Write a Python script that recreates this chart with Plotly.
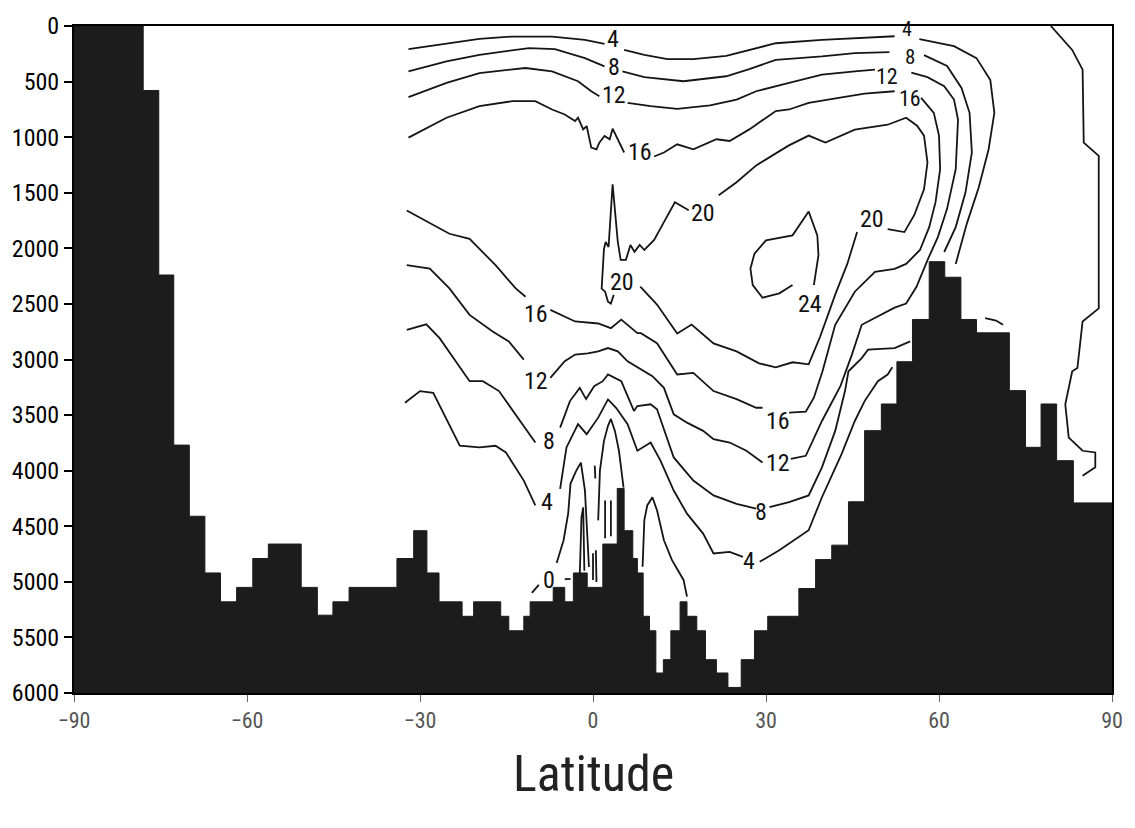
import plotly.graph_objects as go

# ---------------- bathymetry (step cells) ----------------
bathy_edges = [-90.0, -78.0, -75.3, -72.7, -70.0, -67.3, -64.6, -61.8, -59.0, -56.3, -50.6,
               -47.8, -45.1, -42.3, -34.0, -31.1, -28.8, -26.7, -22.7, -20.7, -16.0, -14.6,
               -12.0, -10.9, -6.9, -4.9, -3.4, -1.0, 1.7, 4.2, 5.4, 6.9, 7.7, 8.7, 9.8, 10.9,
               12.2, 13.5, 15.1, 16.3, 18.0, 19.5, 21.4, 23.4, 25.7, 28.0, 30.3, 35.7, 38.6,
               41.4, 44.3, 47.1, 50.0, 52.7, 55.4, 58.3, 61.0, 63.8, 66.5, 72.2, 75.0, 77.7,
               80.4, 83.3, 90.0]
bathy_depth = [0, 580, 2240, 3770, 4410, 4920, 5180, 5050, 4790, 4660,
               5050, 5300, 5180, 5050, 4790, 4540, 4920, 5180, 5310, 5180,
               5310, 5440, 5310, 5180, 5050, 5180, 4920, 5050, 4660, 4160,
               4540, 4790, 4920, 5310, 5440, 5820, 5700, 5440, 5180, 5310,
               5440, 5700, 5820, 5950, 5700, 5440, 5310, 5060, 4800, 4670,
               4280, 3640, 3400, 3020, 2640, 2120, 2260, 2640, 2760, 3280,
               3790, 3400, 3910, 4290]

# ---------------- contour lines (lat, depth); None = label gap ----------------
c4_upper_lat = [-32.0, -25.4, -19.7, -14.0, -7.1, -1.4, 2.0, None, 5.4, 8.9, 12.9, 17.4, 23.1,
                27.1, 31.7, 39.7, 45.4, 52.3, None, 56.6, 62.6, 66.5, 68.9, 69.6, 68.6, 66.9,
                64.8, 62.9]
c4_upper_dep = [208, 155, 116, 95, 95, 125, 161, None, 215, 259, 298, 298, 268,
                215, 155, 125, 110, 92, None, 119, 182, 289, 486, 781, 1111, 1451,
                1782, 2140]

c4_lower_lat = [51.9, 51.1, 49.4, 47.1, 45.4, 43.1, 39.7, 37.4, 32.3, 28.9, None,
                26.0, 23.7, 20.9, 19.1, 16.3, 14.0, 11.7, 10.0, 7.7, 6.0, 4.0, 2.6, 0.9,
                -1.1, -2.6, -4.6, -5.7, None, -10.0, -12.0, -15.1, -16.9, -19.7, -23.1,
                -27.7, -30.0, -32.6]
c4_lower_dep = [3070, 3135, 3195, 3374, 3553, 3851, 4239, 4536, 4715, 4820, None,
                4775, 4730, 4745, 4566, 4387, 4179, 3910, 3747, 3821, 3582, 3434, 3359, 3523,
                3672, 3582, 3791, 4163, None, 4313, 4089, 3836, 3776, 3791, 3776,
                3300, 3284, 3389]

c8_upper_lat = [-32.0, -25.4, -19.7, -11.1, -6.6, -1.4, 2.0, None, 5.1, 8.9, 15.7, 23.1, 27.1,
                31.7, 34.0, 39.7, 45.4, 51.4, None, 57.4, 61.4, 63.9, 65.3, 65.7, 64.6, 62.9,
                60.9]
c8_upper_dep = [408, 318, 259, 199, 208, 289, 363, None, 408, 459, 497, 452, 387,
                305, 296, 274, 244, 235, None, 262, 360, 557, 781, 1138, 1496, 1809,
                2033]

c8_lower_lat = [55.0, 52.3, 47.7, 46.6, 44.3, 43.7, 42.0, 39.7, 37.4, 34.0, 30.6, None,
                28.3, 24.9, 20.9, 17.4, 14.0, 11.1, 10.0, 7.7, 7.1, 4.9, 2.6, 1.7, 0.2, -1.2,
                -2.3, -4.0, -5.7, None, -10.0, -16.3, -19.1, -21.4, -26.6, -28.9, -32.3]
c8_lower_dep = [2837, 2897, 2912, 2987, 3106, 3284, 3642, 3970, 4223, 4283, 4328, None,
                4342, 4298, 4223, 4089, 3881, 3448, 3403, 3419, 3463, 3195, 3135, 3195, 3240, 3356,
                3255, 3374, 3613, None, 3747, 3284, 3195, 3195, 2808, 2683, 2733]

c12_lat = [-32.0, -25.4, -19.7, -11.7, -7.1, -2.6, -0.3, 1.1, None,
           6.0, 10.0, 14.6, 20.3, 24.9, 28.3, 34.0, 39.7, 45.4, 48.9, None,
           55.2, 58.0, 60.9, 62.6, 63.3, 62.9, 61.4, 59.8, 58.1, 56.1, 54.3, 52.3, 46.6, 44.9,
           42.9, 39.7, 36.9, 34.3, None,
           29.4, 26.6, 23.7, 20.9, 19.1, 16.3, 14.0, 12.3, 10.3, 8.3, 6.0, 4.3, 2.6, 0.9, -0.9,
           -3.1, -4.9, -7.4, None,
           -12.0, -14.6, -17.4, -21.4, -24.9, -28.3, -32.3]
c12_dep = [640, 512, 423, 378, 408, 497, 587, 631, None,
           691, 721, 745, 715, 662, 587, 512, 438, 408, 393, None,
           420, 460, 542, 662, 841, 1288, 1645, 1899, 2095, 2346, 2497, 2533, 2688, 2956,
           3240, 3553, 3866, 3895, None,
           3926, 3821, 3747, 3716, 3642, 3568, 3493, 3255, 3150, 3090, 3016, 2927, 2897, 2927, 2945,
           2956, 3016, 3166, None,
           3001, 2837, 2748, 2599, 2361, 2182, 2152]

c16_lat = [-32.0, -25.4, -19.7, -14.0, -10.0, -7.1, -4.9, -3.1, -2.6, -1.7, -1.1, -0.3, 0.6, 1.1,
           2.0, 2.9, 3.4, 4.3, 5.4, None,
           10.6, 12.3, 14.6, 17.4, 21.4, 23.7, 27.1, 31.7, 34.0, 37.4, 42.6, 47.1, 52.3, None,
           56.9, 59.1, 60.0, 60.2, 59.4, 58.3, 56.7, 54.3, 52.3, 48.9, 45.4, 42.0, 39.8, 38.3,
           36.9, 34.0, None,
           29.4, 28.3, 24.9, 20.9, 17.4, 14.6, 11.1, 8.3, 7.7, 4.9, 3.1, 0.9, -3.1, -6.0, -7.4, None,
           -11.7, -13.4, -16.9, -21.4, -24.9, -32.3]
c16_dep = [1004, 825, 721, 676, 676, 751, 796, 855, 825, 930, 900, 1094, 1109, 1049,
           989, 1019, 924, 1019, 1138, None,
           1174, 1138, 1064, 1109, 1019, 1034, 930, 765, 751, 691, 647, 608, 587, None,
           647, 781, 986, 1288, 1585, 1809, 2015, 2140, 2184, 2211, 2390, 2688, 3106, 3344,
           3469, 3478, None,
           3434, 3434, 3356, 3284, 3121, 3135, 2853, 2763, 2763, 2641, 2718, 2676, 2658, 2587, 2554, None,
           2435, 2361, 2152, 1914, 1869, 1660]

c20_lat = [8.2, 11.1, 14.6, 17.1, 20.9, 24.9, 28.8, 31.7, 34.6, 37.4, 39.4, 42.0, 44.1, 45.8, None,
           51.1, 54.0, 55.7, 57.4, 58.0, 57.4, 56.2, 54.3, 51.1, 45.4, 40.3, 37.4, 33.9, 28.3,
           24.9, 21.8, None,
           16.6, 14.2, 12.3, 10.6, 8.9, 8.1, 7.2, 6.5, 5.7, 4.8, 4.3, 3.4, 2.7, 2.2, 1.9, 1.5,
           2.1, 2.6, 3.1, 3.6]
c20_dep = [2345, 2506, 2766, 2686, 2855, 2927, 3034, 3070, 3025, 3043, 2793, 2417, 2140, 1854, None,
           1827, 1854, 1702, 1469, 1228, 986, 897, 825, 888, 933, 1049, 986, 1076, 1254,
           1406, 1523, None,
           1657, 1585, 1764, 1925, 2015, 1970, 2032, 1970, 2104, 2104, 1943, 1424, 1988, 1943, 2006, 2363,
           2390, 2480, 2497, 2417]

c24_lat = [34.6, 32.3, 29.4, 27.7, 27.3, 28.0, 30.0, 34.6, 37.4, 38.9, 39.1, 38.3]
c24_dep = [2330, 2405, 2444, 2330, 2182, 2048, 1928, 1883, 1669, 1883, 2062, 2330]

c0_lat = [-10.6, -9.4, None, -6.3, -5.1, -4.3, -3.9, -2.9, -2.1, -1.4, -1.0, -0.7]
c0_dep = [5100, 5028, None, 4831, 4626, 4384, 4116, 4000, 3928, 4178, 4536, 4867]

trop_lat = [-2.3, -2.0, -1.7, -1.5, None, 0.3, 0.4, None, 0.0, 0.0, None, 0.5, 0.6, None,
            0.9, 1.2, 1.9, 2.6, 3.1, 3.8, 4.5, 5.0, 5.3, None, 2.1, 2.1, None, 3.1, 3.1, None,
            8.6, 8.9, 9.4, 10.3, 11.1, 12.3, 13.7, 15.7, 16.3, None, -4.9, -3.9]
trop_dep = [4950, 4420, 4330, 4900, None, 3955, 4071, None, 4742, 4983, None, 4716, 5001, None,
            4447, 4000, 3732, 3597, 3535, 3642, 3821, 4000, 4152, None, 4268, 4608, None, 4268, 4590, None,
            4864, 4447, 4313, 4239, 4357, 4626, 4805, 4983, 5133, None, 4975, 4975]

north_lat = [79.4, 83.1, 84.9, 85.1, 87.7, 87.7, 84.9, 84.0, 83.1, 81.9, 82.5, 84.9, 87.1, 87.1, 84.9,
             None, 68.0, 69.9, 71.1]
north_dep = [0, 215, 393, 1049, 1168, 2540, 2658, 3076, 3106, 3403, 3702, 3821, 3836, 3970, 4045,
             None, 2628, 2650, 2688]

# ---------------- contour labels ----------------
label_text = ["4", "8", "12", "16", "20", "20", "20", "24", "16", "12", "8", "4", "0",
              "16", "12", "8", "4", "4", "8", "12", "16"]
label_lat = [3.4, 3.6, 3.6, 8.1, 19.0, 5.1, 48.3, 37.7, -9.9, -9.9, -7.7, -7.9, -7.7,
             32.1, 32.1, 29.1, 27.1, 54.5, 55.0, 50.9, 55.0]
label_dep = [120, 365, 620, 1129, 1684, 2301, 1738, 2497, 2587, 3195, 3732, 4286, 4983,
             3553, 3928, 4375, 4814, 25, 280, 450, 655]
label_size = [24, 24, 24, 24, 24, 24, 24, 24, 24, 24, 24, 24, 24,
              24, 24, 24, 24, 20, 21, 22, 22]

x_ticks = [-90, -60, -30, 0, 30, 60, 90]
y_ticks = [0, 500, 1000, 1500, 2000, 2500, 3000, 3500, 4000, 4500, 5000, 5500, 6000]
x_title = "Latitude"

NARROW = "Liberation Sans Narrow, Arial Narrow, Roboto Condensed, DejaVu Sans Condensed, sans-serif"

fig = go.Figure()

# bathymetry polygon built from the step cells
poly_x, poly_y = [], []
for i, d in enumerate(bathy_depth):
    poly_x += [bathy_edges[i], bathy_edges[i + 1]]
    poly_y += [d, d]
poly_x += [bathy_edges[-1], bathy_edges[0]]
poly_y += [y_ticks[-1], y_ticks[-1]]
fig.add_trace(go.Scatter(x=poly_x, y=poly_y, mode="lines", fill="toself",
                         fillcolor="#1c1c1c", line=dict(color="#1c1c1c", width=1),
                         hoverinfo="skip"))

pieces = [(c4_upper_lat, c4_upper_dep), (c4_lower_lat, c4_lower_dep),
          (c8_upper_lat, c8_upper_dep), (c8_lower_lat, c8_lower_dep),
          (c12_lat, c12_dep), (c16_lat, c16_dep), (c20_lat, c20_dep),
          (c24_lat, c24_dep), (c0_lat, c0_dep), (trop_lat, trop_dep),
          (north_lat, north_dep)]
for lx, ly in pieces:
    fig.add_trace(go.Scatter(x=lx, y=ly, mode="lines", connectgaps=False,
                             line=dict(color="#151515", width=1.8), hoverinfo="skip"))

for t, la, de, sz in zip(label_text, label_lat, label_dep, label_size):
    fig.add_annotation(x=la, y=de, xref="x", yref="y", text=t, showarrow=False,
                       borderpad=0,
                       font=dict(family=NARROW, size=sz, color="#111"))

fig.add_annotation(x=0.5, y=-0.122, xref="paper", yref="paper", text=x_title,
                   showarrow=False, yanchor="middle",
                   font=dict(family=NARROW, size=50, color="#222"))

fig.update_layout(
    width=1135, height=828, autosize=False,
    margin=dict(l=70, r=15, t=23, b=135),
    paper_bgcolor="white", plot_bgcolor="white",
    showlegend=False,
    xaxis=dict(range=[-90, 90], tickvals=x_ticks, ticks="outside", ticklen=7,
               tickwidth=1, tickcolor="#666", showline=True, linecolor="black",
               linewidth=2, mirror=True, showgrid=False, zeroline=False,
               tickfont=dict(family=NARROW, size=22, color="#555")),
    yaxis=dict(range=[6000, 0], tickvals=y_ticks, ticks="outside", ticklen=8,
               tickwidth=2, tickcolor="black", showline=True, linecolor="black",
               linewidth=2, mirror=True, showgrid=False, zeroline=False,
               tickfont=dict(family=NARROW, size=24, color="black")),
)

fig.write_html("out.html")
